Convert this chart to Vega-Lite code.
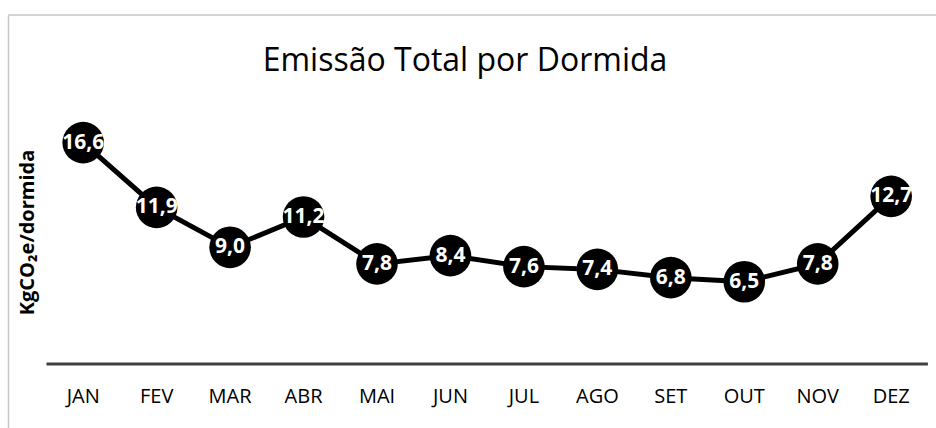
{
  "$schema": "https://vega.github.io/schema/vega-lite/v6.json",
  "width": 928,
  "height": 413,
  "autosize": {"type": "none"},
  "padding": {"left": 8, "top": 15, "right": 0, "bottom": 0},
  "background": "white",
  "config": {
    "view": {"stroke": null},
    "font": "Open Sans",
    "locale": {"number": {"decimal": ",", "thousands": ".", "grouping": [3], "currency": ["", " €"]}}
  },
  "title": {
    "text": "Emissão Total por Dormida",
    "anchor": "middle",
    "frame": "group",
    "fontSize": 32,
    "fontWeight": "normal",
    "font": "Open Sans",
    "color": "#000000",
    "baseline": "alphabetic",
    "offset": 0,
    "dy": 89,
    "dx": -7
  },
  "data": {
    "values": [
      {"mes": "JAN", "valor": 16.6},
      {"mes": "FEV", "valor": 11.9},
      {"mes": "MAR", "valor": 9.0},
      {"mes": "ABR", "valor": 11.2},
      {"mes": "MAI", "valor": 7.8},
      {"mes": "JUN", "valor": 8.4},
      {"mes": "JUL", "valor": 7.6},
      {"mes": "AGO", "valor": 7.4},
      {"mes": "SET", "valor": 6.8},
      {"mes": "OUT", "valor": 6.5},
      {"mes": "NOV", "valor": 7.8},
      {"mes": "DEZ", "valor": 12.7}
    ]
  },
  "layer": [
    {
      "data": {"values": [{}]},
      "mark": {"type": "rule", "color": "#c6c6c6", "strokeWidth": 1.5},
      "encoding": {"y": {"datum": 25.86, "type": "quantitative"}}
    },
    {
      "data": {"values": [{}]},
      "mark": {"type": "rule", "color": "#404040", "strokeWidth": 3},
      "encoding": {
        "y": {"datum": 0.53, "type": "quantitative"},
        "x": {"datum": "JAN", "type": "nominal", "bandPosition": 0},
        "x2": {"datum": "DEZ", "bandPosition": 1}
      }
    },
    {
      "mark": {"type": "line", "color": "#000000", "strokeWidth": 5},
      "encoding": {
        "x": {
          "field": "mes",
          "type": "nominal",
          "sort": null,
          "scale": {
            "domain": ["JAN", "FEV", "MAR", "ABR", "MAI", "JUN", "JUL", "AGO", "SET", "OUT", "NOV", "DEZ"],
            "paddingInner": 0, "paddingOuter": 0.317, "align": 0.826
          },
          "axis": {
            "title": null,
            "domain": false,
            "ticks": false,
            "grid": false,
            "bandPosition": 0.5,
            "labelAlign": "center",
            "labelAngle": 0,
            "labelFontSize": 20,
            "labelFont": "Open Sans",
            "labelColor": "#000000",
            "offset": -64,
            "labelPadding": 32
          }
        },
        "y": {
          "field": "valor",
          "type": "quantitative",
          "scale": {"domain": [-4.11, 25.86], "nice": false, "zero": false},
          "axis": {
            "title": "KgCO₂e/dormida",
            "domain": true,
            "domainColor": "#c6c6c6",
            "domainWidth": 1.5,
            "ticks": false,
            "labels": false,
            "grid": false,
            "titleFont": "Open Sans",
            "titleFontSize": 20,
            "titleFontWeight": "bold",
            "titleColor": "#000000",
            "titleAngle": -90,
            "titleX": 19,
            "titleY": 217,
            "titleAlign": "center",
            "titleBaseline": "middle"
          }
        }
      }
    },
    {
      "mark": {"type": "circle", "color": "#000000", "opacity": 1, "size": 1730},
      "encoding": {
        "x": {"field": "mes", "type": "nominal", "sort": null},
        "y": {"field": "valor", "type": "quantitative"}
      }
    },
    {
      "mark": {"type": "text", "color": "#ffffff", "fontWeight": "bold", "fontSize": 21, "font": "Open Sans", "baseline": "middle", "align": "center"},
      "encoding": {
        "x": {"field": "mes", "type": "nominal", "sort": null},
        "y": {"field": "valor", "type": "quantitative"},
        "text": {"field": "valor", "type": "quantitative", "format": ".1f"}
      }
    }
  ]
}
